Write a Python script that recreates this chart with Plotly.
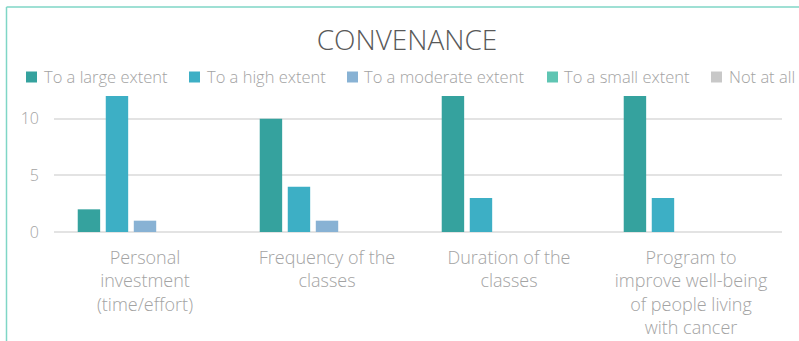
import plotly.graph_objects as go

categories = ["Personal<br>investment<br>(time/effort)", "Frequency of the<br>classes",
              "Duration of the<br>classes", "Program to<br>improve well-being<br>of people living<br>with cancer"]
series_names = ["To a large extent", "To a high extent", "To a moderate extent",
                "To a small extent", "Not at all"]
large_extent = [2, 10, 12, 12]
high_extent = [12, 4, 3, 3]
moderate_extent = [1, 1, 0, 0]
small_extent = [0, 0, 0, 0]
not_at_all = [0, 0, 0, 0]
colors = ["#35A29E", "#3DAFC5", "#88B2D4", "#5FC5B3", "#C8C8C8"]

values = [large_extent, high_extent, moderate_extent, small_extent, not_at_all]

fig = go.Figure()
for name, vals, col in zip(series_names, values, colors):
    fig.add_trace(go.Bar(x=categories, y=vals, name=name, showlegend=False,
                         marker=dict(color=col, line=dict(width=0))))

W, H = 799, 341
L, R, T, B = 54, 17, 96, 109
pw = W - L - R
ph = H - T - B

def px_x(p):
    return (p - L) / pw

def px_y(p):
    return (H - B - p) / ph

text_color = "#A3A3A3"
font_family = "Open Sans, Noto Sans, sans-serif"

# chart frame (teal border, top & left visible)
border = "#7FD6C6"
fig.add_shape(type="line", xref="paper", yref="paper",
              x0=px_x(6.5), x1=px_x(6.5), y0=px_y(345), y1=px_y(7), line=dict(color=border, width=1.5))
fig.add_shape(type="line", xref="paper", yref="paper",
              x0=px_x(6.5), x1=px_x(805), y0=px_y(7), y1=px_y(7), line=dict(color=border, width=1.5))

# legend (drawn manually to keep it on one row like the original)
legend_sq_x = [26, 189, 347, 547, 711]
legend_txt_x = [42, 205, 362, 562, 727]
legend_y = 77
for name, col, sx, tx in zip(series_names, colors, legend_sq_x, legend_txt_x):
    fig.add_shape(type="rect", xref="paper", yref="paper",
                  x0=px_x(sx), x1=px_x(sx + 11), y0=px_y(legend_y + 5.5), y1=px_y(legend_y - 5.5),
                  fillcolor=col, line=dict(width=0))
    fig.add_annotation(text=name, xref="paper", yref="paper", x=px_x(tx), y=px_y(legend_y - 1),
                       xanchor="left", yanchor="middle", showarrow=False,
                       font=dict(size=16.5, color=text_color, family=font_family, weight=300))

fig.update_layout(
    width=W, height=H,
    margin=dict(l=L, r=R, t=T, b=B, pad=0, autoexpand=False),
    paper_bgcolor="white", plot_bgcolor="white",
    barmode="group", bargap=0.23, bargroupgap=0.2,
    showlegend=False,
    font=dict(family=font_family, color=text_color),
    title=dict(text="CONVENANCE", x=407 / W, xanchor="center", xref="container",
               y=1 - 40 / H, yanchor="middle", yref="container",
               font=dict(size=28, color="#595959", family=font_family, weight=300)),
    xaxis=dict(showgrid=False, showline=False, ticks="", automargin=False,
               tickfont=dict(size=18, color=text_color, weight=300), tickangle=0,
               ticklabelstandoff=13),
    yaxis=dict(range=[0, 12], tickvals=[0, 5, 10], showgrid=True, gridcolor="#E3E3E3",
               gridwidth=1.5, zeroline=True, zerolinecolor="#E3E3E3", zerolinewidth=1.5,
               automargin=False,
               tickfont=dict(size=16, color=text_color, weight=300), ticklabelstandoff=14),
)

fig.write_html("out.html")
